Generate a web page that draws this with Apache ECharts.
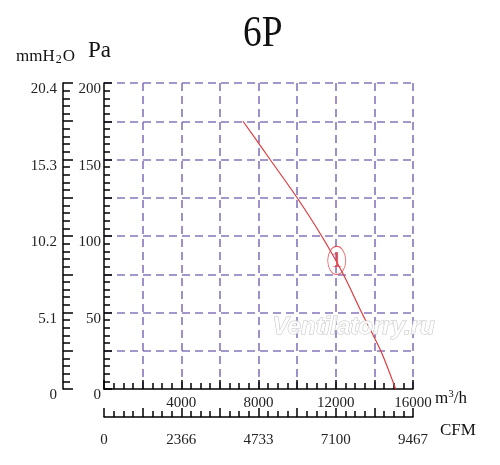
<!DOCTYPE html>
<html>
<head>
<meta charset="utf-8">
<script src="https://cdn.jsdelivr.net/npm/echarts@6/dist/echarts.min.js"></script>
<style>html,body{margin:0;padding:0;background:#fff;}#c{width:500px;height:465px;}</style>
</head>
<body>
<div id="c"></div>
<script>
// Data
var curveFlow = [7200, 8600, 10000, 11270, 12390, 13340, 14330, 15100];
var curvePa   = [175, 150, 125, 100, 75, 50, 25, 0];
var curveLabelPoint = [12050, 84];
var cfmTicks = {0: '0', 4000: '2366', 8000: '4733', 12000: '7100', 16000: '9467'};
var mmTicks = ['0', '5.1', '10.2', '15.3', '20.4'];

var FONT = 'Liberation Serif';
var GRIDC = '#8775bb';
var RED = '#e03a3e';

var chart = echarts.init(document.getElementById('c'));
var curve = curveFlow.map(function (x, i) { return [x, curvePa[i]]; });

chart.setOption({
  animation: false,
  backgroundColor: '#fff',
  grid: { left: 104, right: 87, top: 83, bottom: 76 },
  xAxis: [{
    type: 'value', min: 0, max: 16000, interval: 2000, position: 'bottom',
    axisLine: { show: true, onZero: false, lineStyle: { color: '#000', width: 1.5 } },
    axisTick: { show: true, inside: true, length: 9, lineStyle: { color: '#000', width: 1.5 } },
    minorTick: { show: true, splitNumber: 4, length: 6, lineStyle: { color: '#000', width: 1.5 } },
    axisLabel: { margin: 7, fontFamily: FONT, fontSize: 15, color: '#222',
      formatter: function (v) { return (v > 0 && v % 4000 === 0) ? String(v) : ''; } },
    splitLine: { show: true, showMinLine: false, lineStyle: { color: GRIDC, width: 1.6, type: [8, 5] } }
  }, {
    type: 'value', min: 0, max: 16000, interval: 2000, position: 'bottom', offset: 28,
    axisLine: { show: true, onZero: false, lineStyle: { color: '#000', width: 1.5 } },
    axisTick: { show: true, inside: true, length: 9, lineStyle: { color: '#000', width: 1.5 } },
    minorTick: { show: true, splitNumber: 4, length: 6, lineStyle: { color: '#000', width: 1.5 } },
    axisLabel: { margin: 16, fontFamily: FONT, fontSize: 15, color: '#222',
      formatter: function (v) { return cfmTicks[v] !== undefined ? cfmTicks[v] : ''; } },
    splitLine: { show: false }
  }],
  yAxis: [{
    type: 'value', min: 0, max: 200, interval: 25, position: 'left',
    axisLine: { show: true, onZero: false, lineStyle: { color: '#000', width: 1.5 } },
    axisTick: { show: true, inside: true, length: 8, lineStyle: { color: '#000', width: 1.5 } },
    minorTick: { show: true, splitNumber: 5, length: 6, lineStyle: { color: '#000', width: 1.5 } },
    axisLabel: { margin: 3, fontFamily: FONT, fontSize: 15, color: '#222', verticalAlign: 'top', lineHeight: 13,
      formatter: function (v) { return v % 50 === 0 ? String(v) : ''; } },
    splitLine: { show: true, showMinLine: false, lineStyle: { color: GRIDC, width: 1.6, type: [8, 5] } }
  }, {
    type: 'value', min: 0, max: 20.4, interval: 2.55, position: 'left', offset: 41,
    axisLine: { show: true, onZero: false, lineStyle: { color: '#000', width: 1.5 } },
    axisTick: { show: true, inside: true, length: 10, lineStyle: { color: '#000', width: 1.5 } },
    minorTick: { show: true, splitNumber: 5, length: 7, lineStyle: { color: '#000', width: 1.5 } },
    axisLabel: { margin: 6, fontFamily: FONT, fontSize: 15, color: '#222', verticalAlign: 'top', lineHeight: 13,
      formatter: function (v) {
        var k = Math.round(v / 2.55);
        return k % 2 === 0 ? mmTicks[k / 2] : '';
      } },
    splitLine: { show: false }
  }],
  series: [{
    type: 'line', data: curve, smooth: 0.3, showSymbol: false, xAxisIndex: 0, yAxisIndex: 0,
    lineStyle: { color: RED, width: 1.2 }, z: 5
  }, {
    type: 'scatter', data: [curveLabelPoint], xAxisIndex: 0, yAxisIndex: 0,
    symbol: 'circle', symbolSize: [18, 28],
    itemStyle: { color: 'rgba(255,255,255,0)', borderColor: RED, borderWidth: 1 },
    label: { show: true, position: 'inside', formatter: '1', color: RED, fontFamily: FONT, fontSize: 24 },
    z: 6
  }],
  graphic: [
    { type: 'text', left: 243, top: 12, style: { text: '6P', font: '44px "Liberation Serif"', fill: '#111' }, scaleX: 0.85 },
    { type: 'text', left: 16, top: 48, style: {
        text: '{a|mmH}{b|2}{a|O}', rich: {
          a: { fontFamily: FONT, fontSize: 17, fill: '#111', color: '#111' },
          b: { fontFamily: FONT, fontSize: 12, fill: '#111', color: '#111', padding: [6, 1, 0, 1] }
        } } },
    { type: 'text', left: 88, top: 39, style: { text: 'Pa', font: '23px "Liberation Serif"', fill: '#111' } },
    { type: 'text', left: 435, top: 389, style: {
        text: '{a|m}{b|3}{a|/h}', rich: {
          a: { fontFamily: FONT, fontSize: 17, fill: '#111', color: '#111' },
          b: { fontFamily: FONT, fontSize: 11, fill: '#111', color: '#111', padding: [0, 0, 8, 0] }
        } } },
    { type: 'text', left: 440, top: 422, style: { text: 'CFM', font: '17px "Liberation Serif"', fill: '#111' } },
    { type: 'text', left: 272, top: 315, z: 10, style: { text: 'Ventilatorry.ru', font: 'italic bold 24px "Liberation Sans"', fill: 'rgba(255,255,255,0.85)', stroke: '#c4c4c4', lineWidth: 1 } }
  ]
});
</script>
</body>
</html>
